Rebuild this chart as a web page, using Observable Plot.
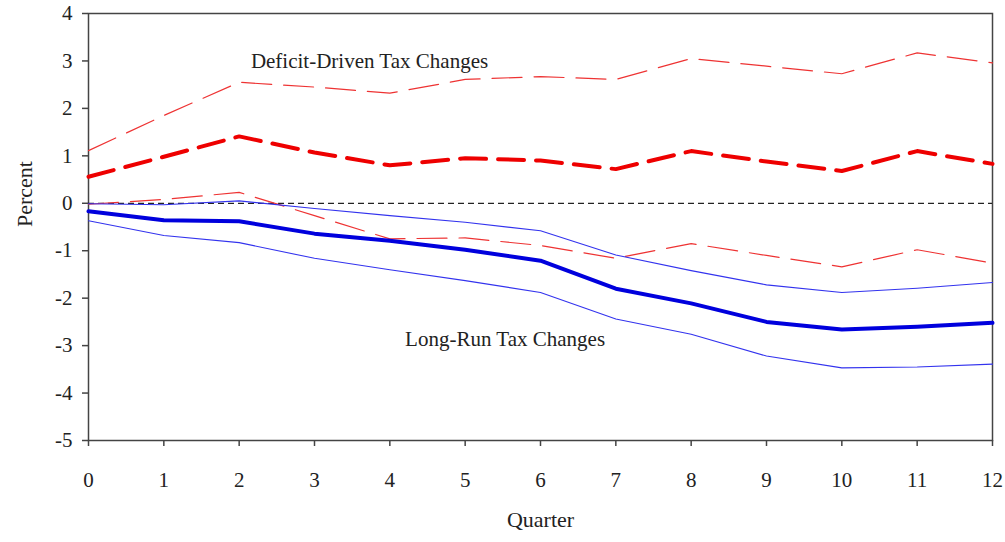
<!DOCTYPE html>
<html>
<head>
<meta charset="utf-8">
<script src="https://cdn.jsdelivr.net/npm/d3@7"></script>
<script src="https://cdn.jsdelivr.net/npm/@observablehq/plot@0.6"></script>
<style>
  html, body { margin: 0; padding: 0; background: #fff; }
  #chart { width: 1005px; height: 542px; }
  #chart svg text { font-family: "Liberation Serif", "Times New Roman", serif; }
</style>
</head>
<body>
<div id="chart"></div>
<script>
const quarters = [0, 1, 2, 3, 4, 5, 6, 7, 8, 9, 10, 11, 12];
const deficitMean  = [0.56, 0.98, 1.41, 1.07, 0.80, 0.95, 0.90, 0.72, 1.10, 0.88, 0.68, 1.10, 0.83];
const deficitUpper = [1.11, 1.85, 2.55, 2.45, 2.32, 2.61, 2.67, 2.61, 3.05, 2.89, 2.73, 3.17, 2.96];
const deficitLower = [-0.02, 0.08, 0.23, -0.26, -0.75, -0.73, -0.89, -1.16, -0.85, -1.10, -1.34, -0.98, -1.26];
const longMean  = [-0.17, -0.36, -0.38, -0.64, -0.79, -0.98, -1.21, -1.80, -2.11, -2.50, -2.66, -2.60, -2.52];
const longUpper = [-0.01, -0.03, 0.05, -0.11, -0.26, -0.40, -0.58, -1.09, -1.42, -1.72, -1.88, -1.79, -1.67];
const longLower = [-0.37, -0.68, -0.83, -1.16, -1.40, -1.63, -1.88, -2.44, -2.76, -3.22, -3.47, -3.45, -3.39];
const yTicks = [4, 3, 2, 1, 0, -1, -2, -3, -4, -5];
const labels = [
  {x: 3.73, y: 3.0, text: "Deficit-Driven Tax Changes"},
  {x: 5.53, y: -2.86, text: "Long-Run Tax Changes"}
];

const series = (vals) => quarters.map((q, i) => ({q, v: vals[i]}));
const font = "Liberation Serif, serif";

const chart = Plot.plot({
  width: 1005,
  height: 542,
  marginLeft: 88,
  marginRight: 13,
  marginTop: 13,
  marginBottom: 102,
  style: {fontFamily: font, fontSize: "21px", color: "#222", background: "#fff"},
  x: {domain: [0, 12]},
  y: {domain: [-5, 4]},
  marks: [
    Plot.frame({stroke: "#444", strokeWidth: 1.5}),
    Plot.axisX({ticks: quarters, tickSize: 6, tickPadding: 26, tickFormat: d => String(d), label: null, stroke: "#444", strokeWidth: 1.5, fontSize: 21}),
    Plot.axisY({ticks: yTicks, tickSize: 6, tickPadding: 10, tickFormat: d => String(d), label: null, stroke: "#444", strokeWidth: 1.5, fontSize: 21}),
    Plot.ruleY([0], {stroke: "#222", strokeWidth: 1.3, strokeDasharray: "6,4"}),
    Plot.line(series(deficitUpper), {x: "q", y: "v", stroke: "#ee3333", strokeWidth: 1.2, strokeDasharray: "30,12"}),
    Plot.line(series(deficitLower), {x: "q", y: "v", stroke: "#ee3333", strokeWidth: 1.2, strokeDasharray: "30,12"}),
    Plot.line(series(deficitMean), {x: "q", y: "v", stroke: "#ee0000", strokeWidth: 4, strokeDasharray: "26,12"}),
    Plot.line(series(longUpper), {x: "q", y: "v", stroke: "#3333ee", strokeWidth: 1.1}),
    Plot.line(series(longLower), {x: "q", y: "v", stroke: "#3333ee", strokeWidth: 1.1}),
    Plot.line(series(longMean), {x: "q", y: "v", stroke: "#0000dd", strokeWidth: 4}),
    Plot.text(labels, {x: "x", y: "y", text: "text", fontSize: 21, fill: "#222"}),
    Plot.text(["Quarter"], {frameAnchor: "bottom", dy: 86, fontSize: 22, fill: "#222"}),
    Plot.text(["Percent"], {frameAnchor: "left", dx: -64, rotate: -90, fontSize: 22, fill: "#222"})
  ]
});
document.getElementById("chart").appendChild(chart);
</script>
</body>
</html>
